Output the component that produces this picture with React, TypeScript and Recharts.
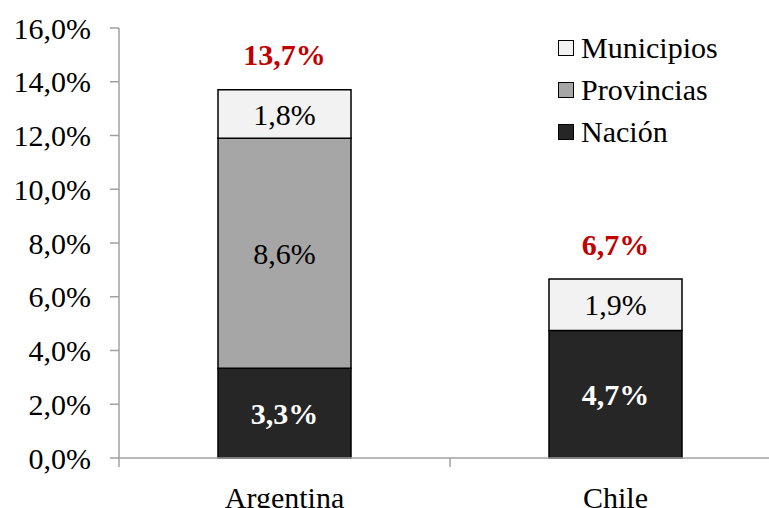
import React from "react";
import { BarChart, Bar, XAxis, YAxis, LabelList } from "recharts";

const categories = ["Argentina", "Chile"];
const nacion = [3.34, 4.74];
const provincias = [8.56, 0];
const municipios = [1.8, 1.92];
const yTicks = [0, 2, 4, 6, 8, 10, 12, 14, 16];

const series = [
  { key: "municipios", name: "Municipios", color: "#F2F2F2" },
  { key: "provincias", name: "Provincias", color: "#A6A6A6" },
  { key: "nacion", name: "Nación", color: "#262626" },
];

const data = categories.map((name, i) => ({
  name,
  nacion: nacion[i],
  provincias: provincias[i],
  municipios: municipios[i],
  total: nacion[i] + provincias[i] + municipios[i],
}));

const FONT = "'Liberation Serif', 'Times New Roman', serif";
const AXIS_COLOR = "#A0A0A0";
const CHART_W = 781;
const CHART_H = 520;
const Y_AXIS_W = 119;
const BAND = (CHART_W - Y_AXIS_W) / categories.length;

const pct = (v: number) => v.toFixed(1).replace(".", ",") + "%";

const CategoryTick = (props: any) => {
  const { x, y, payload, index } = props;
  const half = BAND / 2;
  return (
    <g>
      <line x1={x - half} x2={x - half} y1={y} y2={y + 9} stroke={AXIS_COLOR} strokeWidth={1.5} />
      {index === categories.length - 1 && (
        <line x1={x + half} x2={x + half} y1={y} y2={y + 9} stroke={AXIS_COLOR} strokeWidth={1.5} />
      )}
      <text x={x} y={y + 39} textAnchor="middle" dominantBaseline="central" fontFamily={FONT} fontSize={30} fill="#000">
        {payload.value}
      </text>
    </g>
  );
};

const TotalLabel = (props: any) => {
  const { x, y, width, index } = props;
  return (
    <text x={x + width / 2} y={y - 35} textAnchor="middle" dominantBaseline="central" fontFamily={FONT} fontSize={30} fontWeight="bold" fill="#C00000">
      {pct(data[index].total)}
    </text>
  );
};

const segmentFormatter = (v: any) => (Number(v) > 0 ? pct(Number(v)) : "");

const ChartLegend = () => (
  <div style={{ position: "absolute", left: 558, top: 27, fontFamily: FONT, fontSize: 30, color: "#000", lineHeight: "42px" }}>
    {series.map((s) => (
      <div key={s.key} style={{ display: "flex", alignItems: "center", height: 42 }}>
        <span
          style={{
            width: 14,
            height: 14,
            background: s.color,
            border: "1.5px solid #000",
            marginRight: 7,
            display: "inline-block",
          }}
        />
        <span>{s.name}</span>
      </div>
    ))}
  </div>
);

export default function App() {
  return (
    <div style={{ position: "fixed", left: 0, top: 0, width: 769, height: 508, overflow: "hidden", background: "#fff" }}>
      <BarChart width={CHART_W} height={CHART_H} data={data} margin={{ top: 28, right: 0, bottom: 0, left: 0 }}>
        <YAxis
          width={Y_AXIS_W}
          domain={[0, 16]}
          ticks={yTicks}
          tickFormatter={pct}
          interval={0}
          tickSize={9}
          tickMargin={19}
          axisLine={{ stroke: AXIS_COLOR, strokeWidth: 1.5 }}
          tickLine={{ stroke: AXIS_COLOR, strokeWidth: 1.5 }}
          tick={{ fontFamily: FONT, fontSize: 30, fill: "#000" }}
        />
        <XAxis
          dataKey="name"
          height={62}
          tickLine={false}
          tickSize={0}
          tickMargin={0}
          axisLine={{ stroke: AXIS_COLOR, strokeWidth: 1.5 }}
          tick={<CategoryTick />}
          interval={0}
        />
        <Bar dataKey="nacion" name="Nación" stackId="a" fill="#262626" stroke="#000" strokeWidth={1.5} barSize={133} isAnimationActive={false}>
          <LabelList dataKey="nacion" position="center" formatter={segmentFormatter} fill="#fff" fontFamily={FONT} fontSize={30} fontWeight="bold" />
        </Bar>
        <Bar dataKey="provincias" name="Provincias" stackId="a" fill="#A6A6A6" stroke="#000" strokeWidth={1.5} barSize={133} isAnimationActive={false}>
          <LabelList dataKey="provincias" position="center" formatter={segmentFormatter} fill="#000" fontFamily={FONT} fontSize={30} />
        </Bar>
        <Bar dataKey="municipios" name="Municipios" stackId="a" fill="#F2F2F2" stroke="#000" strokeWidth={1.5} barSize={133} isAnimationActive={false}>
          <LabelList dataKey="municipios" position="center" formatter={segmentFormatter} fill="#000" fontFamily={FONT} fontSize={30} />
          <LabelList dataKey="municipios" content={<TotalLabel />} />
        </Bar>
      </BarChart>
      <ChartLegend />
    </div>
  );
}
